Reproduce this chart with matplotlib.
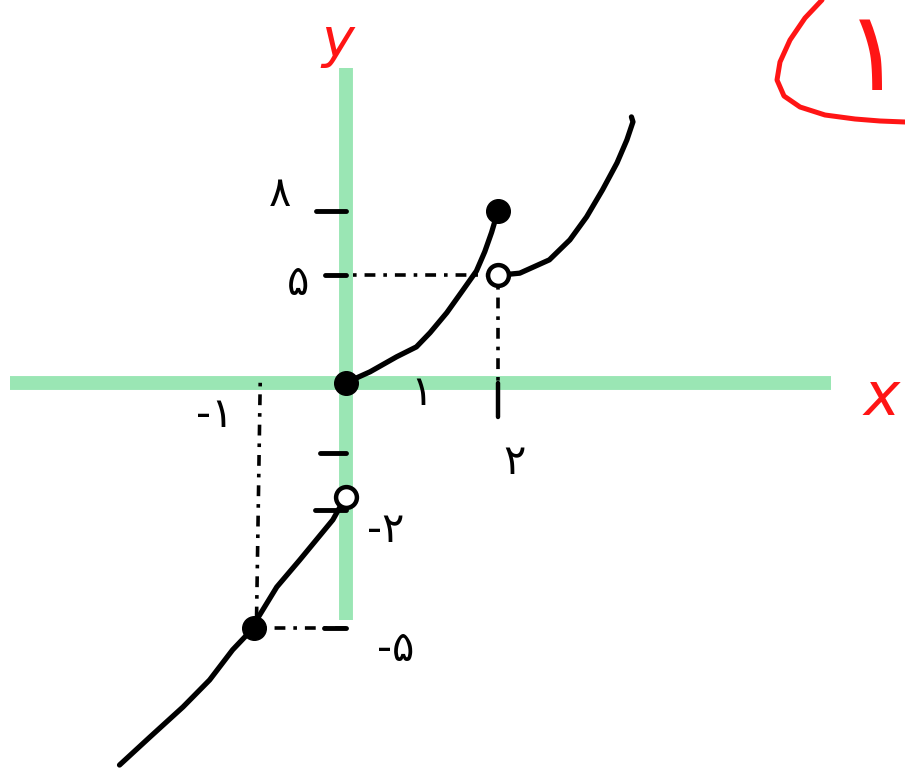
import matplotlib
matplotlib.use("Agg")
import numpy as np
import matplotlib.pyplot as plt

plt.rcParams['font.family'] = ['DejaVu Sans']

# piecewise sketch
left_x = [-2.46, -2.13, -1.77, -1.48, -1.23, -1.0, -0.95, -0.75, -0.5, -0.14, 0.0]
left_y = [-8.15, -7.51, -6.82, -6.2, -5.51, -5.0, -4.76, -4.07, -3.45, -2.53, -2.0]
mid_x = [0.0, 0.32, 0.67, 0.93, 1.11, 1.33, 1.54, 1.72, 1.83, 1.92, 1.97, 2.0]
mid_y = [0.0, 0.51, 1.21, 1.67, 2.33, 3.26, 4.3, 5.2, 6.1, 7.0, 7.6, 8.0]
right_x = [2.0, 2.29, 2.68, 2.95, 3.17, 3.38, 3.57, 3.70, 3.78, 3.76]
right_y = [5.0, 5.1, 5.72, 6.65, 7.72, 8.98, 10.23, 11.3, 12.14, 12.37]

filled_x = [0.0, 2.0, -1.0]
filled_y = [0.0, 8.0, -5.0]
open_x = [2.0, 0.0]
open_y = [5.0, -2.0]

ytick_vals = [8, 5, -1, -2.3, -5]
ytick_len = [0.32, 0.22, 0.28, 0.33, 0.24]
ylabels = ["۸", "۵", "-۲", "-۵"]
ylabel_pos = [(-0.72, 8.8), (-0.52, 4.65), (0.52, -2.76), (0.66, -5.5)]
xlabels = ["۲", "-۱"]
xlabel_pos = [(2.22, -1.2), (-1.42, -0.12)]

GREEN = "#9ae6b4"
RED = "#ff1515"

# the sketch is drawn stretched and shifted below zero, and a bit wider left of zero
KY, CY = 2.03, 1.24
KX = 1.21

def fwd_x(a):
    a = np.asarray(a, float)
    return np.where(a < 0, a * KX, a)
def inv_x(a):
    a = np.asarray(a, float)
    return np.where(a < 0, a / KX, a)
def fwd_y(a):
    a = np.asarray(a, float)
    return np.where(a < 0, a * KY - CY, a)
def inv_y(a):
    a = np.asarray(a, float)
    return np.where(a < 0, np.minimum((a + CY) / KY, 0), a)

fig = plt.figure(figsize=(9.05, 7.72), dpi=100)
ax = fig.add_axes([0, 0, 1, 1])
ax.set_xscale('function', functions=(fwd_x, inv_x))
ax.set_yscale('function', functions=(fwd_y, inv_y))
ax.set_xlim(-3.76, 7.36)
ax.set_ylim(-8.31, 17.81)
ax.axis('off')

# green axes
ax.plot([-3.65, 6.39], [0, 0], color=GREEN, lw=10, solid_capstyle='butt', zorder=1)
ax.plot([0, 0], [14.65, -4.82], color=GREEN, lw=10, solid_capstyle='butt', zorder=1)

# dash-dot guides
dd = (0, (1, 2.2, 3, 2.2))
ax.plot([0.1, 1.9], [5, 5], color='black', lw=2.6, ls=dd, zorder=2)
ax.plot([2.0, 2.0], [4.5, 0.0], color='black', lw=2.6, ls=dd, zorder=2)
ax.plot([-0.93, -0.97], [0.0, -4.8], color='black', lw=2.6, ls=dd, zorder=2)
ax.plot([-0.9, 0.0], [-5, -5], color='black', lw=2.6, ls=dd, zorder=2)

# ticks
for v, l in zip(ytick_vals, ytick_len):
    ax.plot([-l, 0.0], [v, v], color='black', lw=3.5, solid_capstyle='round', zorder=2)
ax.plot([2.0, 2.0], [0.0, -0.17], color='black', lw=3.2, solid_capstyle='round', zorder=2)

# curves
for xs, ys in [(left_x, left_y), (mid_x, mid_y), (right_x, right_y)]:
    ax.plot(xs, ys, color='black', lw=3.8, solid_capstyle='round',
            solid_joinstyle='round', zorder=3)

ax.plot(filled_x, filled_y, 'o', color='black', ms=17, zorder=4)
ax.plot(open_x, open_y, 'o', mfc='white', mec='black', mew=3.2, ms=15, zorder=4)

# digit labels
for t, (x, y) in zip(xlabels + ylabels, xlabel_pos + ylabel_pos):
    ax.text(x, y, t, fontsize=30, ha='center', va='center', color='black')
ax.annotate("۱", (1.0, 0.0), xytext=(0, -7), textcoords='offset points',
            fontsize=30, ha='center', va='center', color='black', zorder=2)

# red hand labels
ax.text(-0.09, 15.9, "y", fontsize=40, color=RED, ha='center', va='center', style='italic')
ax.annotate("x", (7.05, 0.0), xytext=(0, -11), textcoords='offset points',
            fontsize=44, color=RED, ha='center', va='center', style='italic')

# red circled number in the corner (cut by the edge)
arc_px = [(822, 0), (805, 18), (790, 40), (780, 62), (777, 80), (784, 96),
          (800, 107), (825, 115), (855, 119), (880, 121), (905, 122)]
ax.plot([p[0] / 905 for p in arc_px], [1 - p[1] / 772 for p in arc_px],
        color=RED, lw=3.6, solid_capstyle='round', solid_joinstyle='round',
        transform=ax.transAxes)
ax.text(0.966, 1 - 90 / 772, "۱", fontsize=80, color=RED, ha='center', va='baseline',
        transform=ax.transAxes)

fig.savefig("out.png", dpi=100)
